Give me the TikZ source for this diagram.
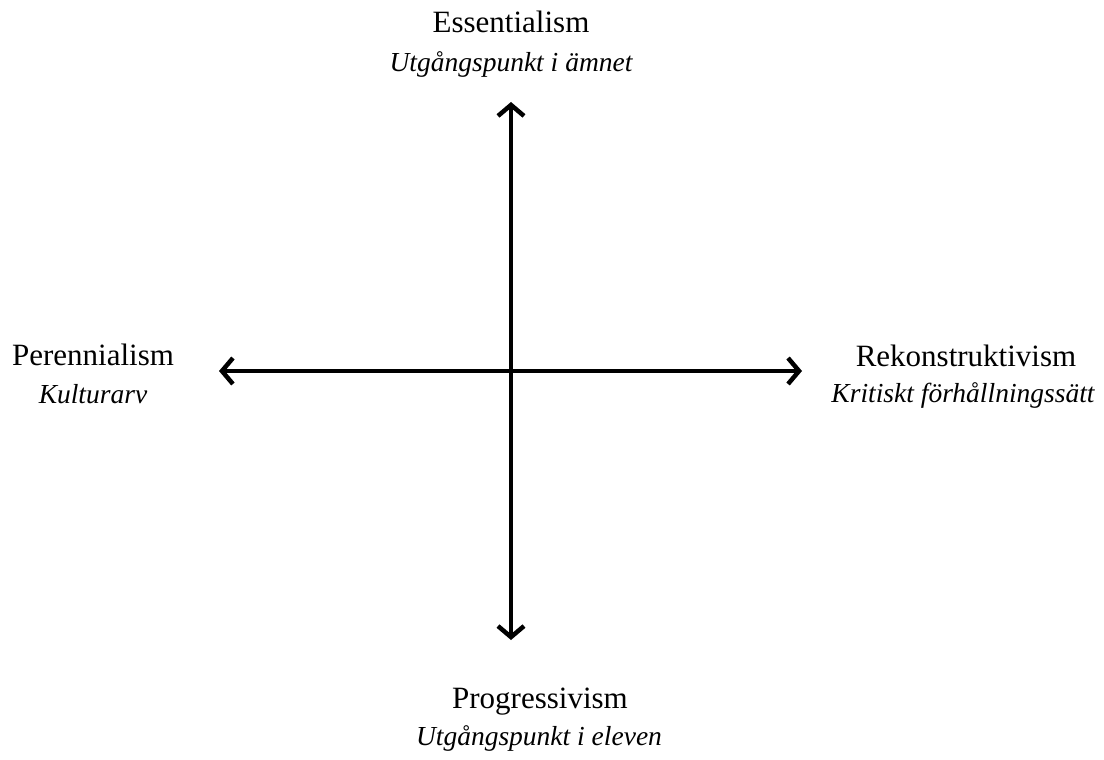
\documentclass[tikz,border=0pt]{standalone}
\usepackage{fontspec}
\setmainfont{Liberation Serif}
\usetikzlibrary{arrows.meta}
\begin{document}
\begin{tikzpicture}[x=1pt,y=-1pt,
  tip/.style={Straight Barb[length=11pt,width=26pt,line width=4.5pt]},
  axis/.style={line width=4.5pt,{Straight Barb[length=11pt,width=26pt,line width=4.5pt]}-{Straight Barb[length=11pt,width=26pt,line width=4.5pt]}},
  ttl/.style={font=\fontsize{31}{37}\selectfont,anchor=base,inner sep=0pt},
  sub/.style={font=\fontsize{27.5}{37}\selectfont\itshape,anchor=base,inner sep=0pt}]
\useasboundingbox (0,0) rectangle (1104,760);
\coordinate (top) at (511,102);
\coordinate (bot) at (511,640);
\coordinate (left) at (219,371);
\coordinate (right) at (802,371);
\draw[axis] (bot) -- (top);
\draw[axis] (left) -- (right);
\node[ttl] (ess) at (511,33) {Essentialism};
\node[sub] (esss) at (511,72) {Utgångspunkt i ämnet};
\node[ttl] (per) at (93,365) {Perennialism};
\node[sub] (pers) at (93,403) {Kulturarv};
\node[ttl] (rek) at (966,366) {Rekonstruktivism};
\node[sub] (reks) at (963,402) {Kritiskt förhållningssätt};
\node[ttl] (pro) at (540,708) {Progressivism};
\node[sub] (pros) at (539,745) {Utgångspunkt i eleven};
\end{tikzpicture}
\end{document}
